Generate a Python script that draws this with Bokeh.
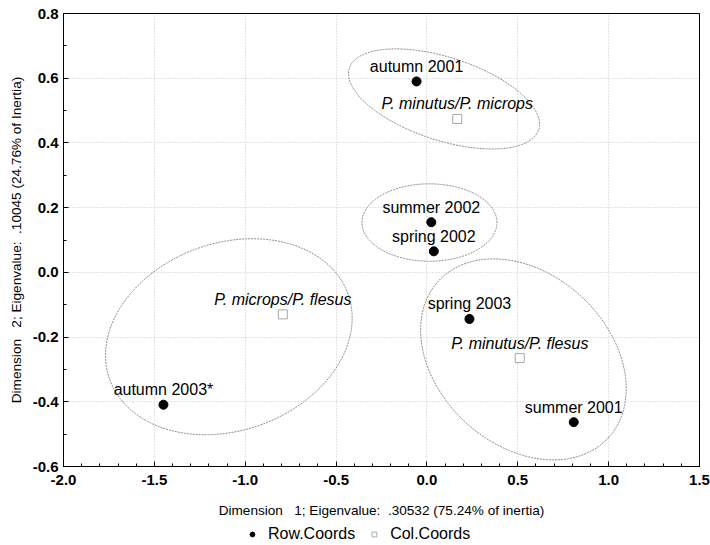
import numpy as np
from bokeh.plotting import figure
from bokeh.layouts import column
from bokeh.models import Legend, LegendItem, Range1d, ColumnDataSource, FixedTicker
from bokeh.core.properties import value
from bokeh.embed import file_html
from bokeh.resources import INLINE

# ---- data ----
row_names = ["autumn 2001", "summer 2002", "spring 2002", "spring 2003", "summer 2001", "autumn 2003*"]
row_x = [-0.057, 0.024, 0.038, 0.234, 0.808, -1.450]
row_y = [0.590, 0.155, 0.065, -0.144, -0.463, -0.409]

col_names = ["P. minutus/P. microps", "P. microps/P. flesus", "P. minutus/P. flesus"]
col_x = [0.167, -0.793, 0.511]
col_y = [0.474, -0.130, -0.265]

x_ticks = [-2.0, -1.5, -1.0, -0.5, 0.0, 0.5, 1.0, 1.5]
y_ticks = [-0.6, -0.4, -0.2, 0.0, 0.2, 0.4, 0.6, 0.8]

# group envelopes: centre (data), semi-axes (screen px), tilt (deg, counter-clockwise)
ell_cx = [0.094, 0.014, -1.090, 0.531]
ell_cy = [0.536, 0.154, -0.199, -0.269]
ell_a = [99.5, 67.5, 126.6, 115.6]
ell_b = [41.5, 38.7, 93.7, 85.5]
ell_ang = [-18.0, 0.0, 19.7, -42.8]

legend_labels = ["Row.Coords", "Col.Coords"]

NB = "\u00a0"
x_label = "Dimension" + NB * 3 + "1; Eigenvalue:" + NB * 2 + ".30532 (75.24% of inertia)"
y_label = "Dimension" + NB * 3 + "2; Eigenvalue:" + NB * 2 + ".10045 (24.76% of Inertia)"

# ---- figure ----
FW, FH = 636, 453
TOP, BOTTOM = 13, 60
X0, X1 = x_ticks[0], x_ticks[-1]
Y0, Y1 = y_ticks[0], y_ticks[-1]
FONT = "Liberation Sans"

p = figure(width=710, height=TOP + FH + BOTTOM, frame_width=FW, frame_height=FH,
           x_range=Range1d(X0, X1), y_range=Range1d(Y0, Y1),
           output_backend="svg", toolbar_location=None,
           min_border_left=63, min_border_right=11, min_border_top=TOP, min_border_bottom=BOTTOM,
           background_fill_color="white", border_fill_color="white")

p.outline_line_color = "black"
p.outline_line_width = 1

for ax, ticks, nminor in ((p.xaxis[0], x_ticks, 5), (p.yaxis[0], y_ticks, 2)):
    step = ticks[1] - ticks[0]
    minor = [ticks[0] + i * step / nminor for i in range((len(ticks) - 1) * nminor + 1)]
    ax.ticker = FixedTicker(ticks=ticks, minor_ticks=minor)
    ax.major_tick_in = 5
    ax.major_tick_out = 0
    ax.minor_tick_in = 3
    ax.minor_tick_out = 0
    ax.axis_line_color = "black"
    ax.major_tick_line_color = "black"
    ax.minor_tick_line_color = "black"
    ax.major_label_text_font = FONT
    ax.major_label_text_font_style = "bold"
    ax.major_label_text_font_size = "15px"
    ax.major_label_text_color = "black"
    ax.axis_label_text_font = FONT
    ax.axis_label_text_font_style = "normal"
    ax.axis_label_text_font_size = "13.6px"
    ax.axis_label_text_color = "black"

p.xaxis[0].axis_label = x_label
p.yaxis[0].axis_label = y_label
p.xaxis[0].major_label_standoff = 8
p.xaxis[0].axis_label_standoff = 15
p.yaxis[0].major_label_standoff = 5
p.yaxis[0].axis_label_standoff = 6
p.xaxis[0].major_label_overrides = {t: f"{t:.1f}" for t in x_ticks}
p.yaxis[0].major_label_overrides = {t: f"{t:.1f}" for t in y_ticks}

for g in (p.xgrid[0], p.ygrid[0]):
    g.grid_line_color = "#c8c8c8"
    g.grid_line_dash = "1 2"
    g.grid_line_width = 1
p.xgrid[0].ticker = FixedTicker(ticks=x_ticks)
p.ygrid[0].ticker = FixedTicker(ticks=y_ticks)

# ellipses (computed in screen space, mapped to data)
xpx = FW / (X1 - X0)
ypx = FH / (Y1 - Y0)
t = np.linspace(0, 2 * np.pi, 240)
exs, eys = [], []
for cx, cy, a, b, ang in zip(ell_cx, ell_cy, ell_a, ell_b, ell_ang):
    th = np.radians(ang)
    dx = a * np.cos(t) * np.cos(th) - b * np.sin(t) * np.sin(th)
    dy = a * np.cos(t) * np.sin(th) + b * np.sin(t) * np.cos(th)
    exs.append(list(cx + dx / xpx))
    eys.append(list(cy + dy / ypx))
p.multi_line(exs, eys, line_color="#8c8c8c", line_width=1, line_dash="2 1")

rsrc = ColumnDataSource(dict(x=row_x, y=row_y, name=row_names))
csrc = ColumnDataSource(dict(x=col_x, y=col_y, name=col_names))

ROW_STYLE = dict(marker="circle", size=9, fill_color="black", line_color="black")
COL_STYLE = dict(marker="square", size=9, fill_color="white", line_color="#a8a8a8", line_width=1)

p.scatter("x", "y", source=csrc, **COL_STYLE)
p.scatter("x", "y", source=rsrc, **ROW_STYLE)

p.text("x", "y", text="name", source=rsrc, text_align="center", text_baseline="alphabetic",
       y_offset=-15, text_font=value(FONT), text_font_size="16px", text_color="black")
p.text("x", "y", text="name", source=csrc, text_align="center", text_baseline="alphabetic",
       y_offset=-15, text_font=value(FONT), text_font_size="16px", text_font_style="italic",
       text_color="black")

# ---- legend strip below the chart (frame aligned with the chart frame) ----
LH = 545 - (TOP + FH + BOTTOM)
q = figure(width=710, height=LH, x_range=Range1d(0, 1), y_range=Range1d(0, 1),
           output_backend="svg", toolbar_location=None, min_border=0,
           background_fill_color="white", border_fill_color="white")
q.axis.visible = False
q.grid.visible = False
q.outline_line_color = None
# legend keys: one off-range sample each, so the key glyphs are drawn but nothing shows in the strip
lr = q.scatter([-5], [-5], **ROW_STYLE)
lc = q.scatter([-5], [-5], **COL_STYLE)
legend = Legend(items=[LegendItem(label=legend_labels[0], renderers=[lr]),
                       LegendItem(label=legend_labels[1], renderers=[lc])],
                orientation="horizontal", location=(183, 2),
                label_text_font=FONT, label_text_font_size="16px", label_text_color="black",
                glyph_width=12, glyph_height=16, label_height=16,
                label_standoff=10, spacing=13, padding=0, margin=0,
                background_fill_alpha=0, border_line_alpha=0)
q.add_layout(legend, "center")

open("out.html", "w").write(file_html(column(p, q, spacing=0), INLINE))
